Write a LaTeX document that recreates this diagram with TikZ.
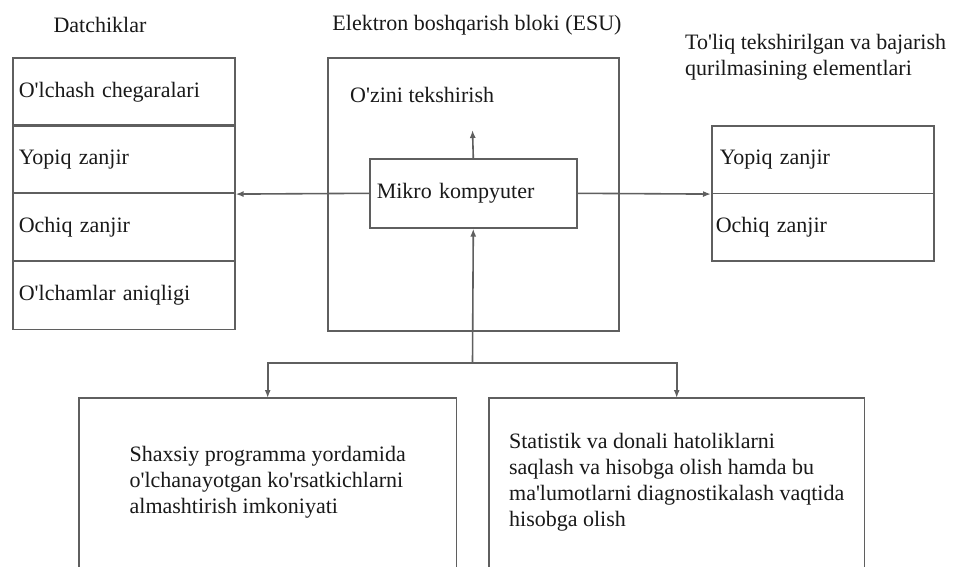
\documentclass[tikz,border=0pt]{standalone}
\usepackage{fontspec}
\setmainfont{Liberation Serif}
\usetikzlibrary{arrows.meta}
\newcommand{\ap}{\textquotesingle}
\definecolor{linegrey}{RGB}{95,95,95}
\definecolor{txt}{RGB}{25,25,25}
\tikzset{
  cell/.style={draw=linegrey, line width=1.6pt, anchor=north west, minimum width=222pt, minimum height=68pt,
    text width=210pt, inner xsep=6pt, align=left, text=txt, font=\fontsize{22}{26}\selectfont},
  rcell/.style={cell, minimum width=222pt, minimum height=67.5pt, text width=206pt, inner xsep=8pt},
  box/.style={draw=linegrey, line width=1.6pt, anchor=north west},
  lbl/.style={text=txt, font=\fontsize{22}{26}\selectfont, inner sep=0pt},
  bbox/.style={anchor=north west, minimum height=169pt, align=left, text=txt, font=\fontsize{22}{26}\selectfont, inner sep=0pt},
  arr/.style={draw=linegrey, line width=1.6pt, -{Latex[length=8pt,width=6pt]}},
  ln/.style={draw=linegrey, line width=1.6pt}
}
\begin{document}
\begin{tikzpicture}[x=1pt,y=-1pt]
\useasboundingbox[fill=white] (0,0) rectangle (956,567);
% titles
\node[lbl] (tdat) at (100,25) {Datchiklar};
\node[lbl] (tesu) at (477,25) {Elektron boshqarish bloki (ESU)};
\node[lbl, anchor=west, align=left] (tres) at (685,57) {To\ap liq tekshirilgan va bajarish\\qurilmasining elementlari};
% left stack
\node[cell] (c1) at (12,57) {O\ap lchash chegaralari};
\node[cell] (c2) at (12,124.5) {Yopiq zanjir};
\node[cell] (c3) at (12,192) {Ochiq zanjir};
\node[cell] (c4) at (12,260.5) {O\ap lchamlar aniqligi};
% ESU
\node[box, minimum width=291pt, minimum height=273pt] (esu) at (327,57) {};
\node[lbl, anchor=west] (oz) at (350,95) {O\ap zini tekshirish};
\node[box, minimum width=207pt, minimum height=69pt, text width=193pt, inner xsep=7pt, align=left, text=txt, font=\fontsize{22}{26}\selectfont] (mk) at (369,158) {Mikro kompyuter};
\coordinate (ztip) at (472.5,130);
% right stack
\node[rcell] (r1) at (711,125) {Yopiq zanjir};
\node[rcell, inner xsep=4pt, text width=214pt] (r2) at (711,192.5) {Ochiq zanjir};
% bottom boxes (open at bottom edge)
\node[bbox, minimum width=377pt] (bl) at (79,398)
  {Shaxsiy programma yordamida\\o\ap lchanayotgan ko\ap rsatkichlarni\\almashtirish imkoniyati};
\node[bbox, minimum width=375pt] (br) at (489,398)
  {Statistik va donali hatoliklarni\\saqlash va hisobga olish hamda bu\\ma\ap lumotlarni diagnostikalash vaqtida\\hisobga olish};
\draw[ln] (bl.south west) |- (bl.north east) -- (bl.south east);
\draw[ln] (br.south west) |- (br.north east) -- (br.south east);
% connectors
\draw[arr] (mk.north) -- (ztip);
\draw[arr] (mk.west) -- (c2.south east);
\draw[arr] (mk.east) -- (r1.south west);
\coordinate (j) at (472.5,363);
\draw[arr] (j) -- (mk.south);
\draw[arr] (j) -| (bl.north);
\draw[arr] (j) -| (br.north);
\end{tikzpicture}
\end{document}
